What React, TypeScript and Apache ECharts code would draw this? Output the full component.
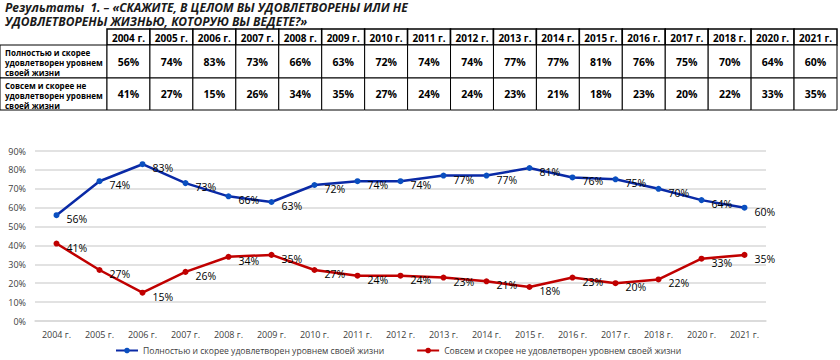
import React, { useEffect, useRef } from "react";
import * as echarts from "echarts";

const years = ["2004 г.", "2005 г.", "2006 г.", "2007 г.", "2008 г.", "2009 г.", "2010 г.", "2011 г.", "2012 г.", "2013 г.", "2014 г.", "2015 г.", "2016 г.", "2017 г.", "2018 г.", "2020 г.", "2021 г."];
const satisfied = [56, 74, 83, 73, 66, 63, 72, 74, 74, 77, 77, 81, 76, 75, 70, 64, 60];
const notSatisfied = [41, 27, 15, 26, 34, 35, 27, 24, 24, 23, 21, 18, 23, 20, 22, 33, 35];
const seriesNames = ["Полностью и скорее удовлетворен уровнем своей жизни", "Совсем и скорее не удовлетворен уровнем своей жизни"];
const rowLabels = ["Полностью и скорее\nудовлетворен уровнем\nсвоей жизни", "Совсем и скорее не\nудовлетворен уровнем\nсвоей жизни"];
const titleLines = ["Результаты  1. – «СКАЖИТЕ, В ЦЕЛОМ ВЫ УДОВЛЕТВОРЕНЫ ИЛИ НЕ", "УДОВЛЕТВОРЕНЫ ЖИЗНЬЮ, КОТОРУЮ ВЫ ВЕДЕТЕ?»"];

const FONT = "'Open Sans', 'Noto Sans', sans-serif";

function buildTable(): any[] {
  const els: any[] = [];
  const x0 = 107;
  const colW = (837 - 107) / years.length;
  const rowsY = [29, 45, 78, 110];
  els.push({
    type: "text", x: 5, y: 0,
    style: { text: titleLines.join("\n"), font: "italic bold 12px " + FONT, fill: "#1a1a1a", lineHeight: 14.5 },
  });
  years.forEach((y, i) => {
    const x = x0 + i * colW;
    els.push({ type: "rect", shape: { x, y: rowsY[0], width: colW, height: rowsY[1] - rowsY[0] }, style: { fill: "#fff", stroke: "#000", lineWidth: 1.5 } });
    els.push({ type: "text", x: x + colW / 2, y: (rowsY[0] + rowsY[1]) / 2 + 1, style: { text: y, font: "bold 10px " + FONT, fill: "#000", align: "center", verticalAlign: "middle", lineHeight: 12 } });
  });
  const rows = [satisfied, notSatisfied];
  rows.forEach((vals, r) => {
    const ya = rowsY[r + 1];
    const yb = rowsY[r + 2];
    els.push({ type: "rect", shape: { x: 0, y: ya, width: x0, height: yb - ya }, style: { fill: "#fff", stroke: "#000", lineWidth: 1 } });
    els.push({ type: "text", x: 5, y: ya + 2, style: { text: rowLabels[r], font: "bold 8px " + FONT, fill: "#000", lineHeight: 10 } });
    vals.forEach((v, i) => {
      const x = x0 + i * colW;
      els.push({ type: "rect", shape: { x, y: ya, width: colW, height: yb - ya }, style: { fill: "#fff", stroke: "#000", lineWidth: 1 } });
      els.push({ type: "text", x: x + colW / 2, y: (ya + yb) / 2, style: { text: v + "%", font: "bold 10.5px " + FONT, fill: "#000", align: "center", verticalAlign: "middle" } });
    });
  });
  return els;
}

export default function App() {
  const ref = useRef<HTMLDivElement>(null);
  useEffect(() => {
    document.body.style.margin = "0";
    const chart = echarts.init(ref.current!, null, { renderer: "svg" });
    const label = {
      show: true, position: "right", offset: [2, 4], formatter: "{c}%",
      fontSize: 10.5, color: "#000", fontFamily: FONT,
    };
    chart.setOption({
      animation: false,
      backgroundColor: "#fff",
      textStyle: { fontFamily: FONT },
      graphic: buildTable(),
      grid: { left: 35, right: 74, top: 151, bottom: 39, containLabel: false },
      legend: {
        left: 110, bottom: 0, itemGap: 32, itemWidth: 22, itemHeight: 7,
        textStyle: { fontSize: 8.6, color: "#404040", fontFamily: FONT },
        data: seriesNames,
      },
      xAxis: {
        type: "category", data: years, boundaryGap: true,
        axisLine: { lineStyle: { color: "#d9d9d9", width: 1.5 } },
        axisTick: { show: false },
        axisLabel: { fontSize: 9, color: "#404040", margin: 9, interval: 0 },
      },
      yAxis: {
        type: "value", min: 0, max: 90, interval: 10,
        axisLine: { show: false }, axisTick: { show: false },
        axisLabel: { formatter: "{value}%", fontSize: 9, color: "#404040", margin: 9 },
        splitLine: { lineStyle: { color: "#d9d9d9", width: 1.5 } },
      },
      series: [
        {
          name: seriesNames[0], type: "line", data: satisfied,
          symbol: "circle", symbolSize: 6,
          lineStyle: { color: "#0a2aa6", width: 2.5 },
          itemStyle: { color: "#0a4fc0" },
          label,
        },
        {
          name: seriesNames[1], type: "line", data: notSatisfied,
          symbol: "circle", symbolSize: 6,
          lineStyle: { color: "#c00000", width: 2.5 },
          itemStyle: { color: "#c00000" },
          label,
        },
      ],
    });
    return () => chart.dispose();
  }, []);
  return <div ref={ref} style={{ width: 840, height: 360 }} />;
}
